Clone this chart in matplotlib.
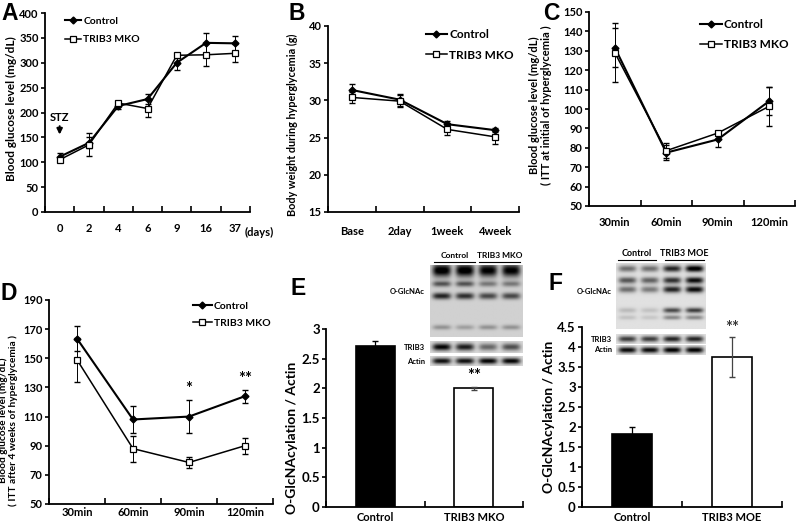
import numpy as np
import matplotlib.pyplot as plt
from matplotlib.ticker import FormatStrFormatter, FixedLocator

plt.rcParams['font.family'] = ['Lato', 'DejaVu Sans']
plt.rcParams['font.weight'] = 'bold'
plt.rcParams['axes.labelweight'] = 'bold'

# DATA
days = ['0', '2', '4', '6', '9', '16', '37']
a_ctrl = [111, 139, 213, 227, 300, 340, 339]
a_ctrl_err = [7, 11, 6, 10, 15, 20, 15]
a_mko = [105, 135, 219, 208, 315, 316, 319]
a_mko_err = [5, 23, 5, 18, 5, 23, 18]

b_labels = ['Base', '2day', '1week', '4week']
b_ctrl = [31.4, 30.1, 26.8, 26.0]
b_ctrl_err = [0.8, 0.8, 0.45, 0.3]
b_mko = [30.4, 29.9, 26.1, 25.1]
b_mko_err = [0.7, 0.8, 0.8, 0.9]

itt_labels = ['30min', '60min', '90min', '120min']
c_ctrl = [131.7, 77.5, 84.3, 104.1]
c_ctrl_err = [9.8, 4, 4, 7.3]
c_mko = [129.1, 78.5, 87.6, 101.4]
c_mko_err = [15, 4, 1, 10]

d_ctrl = [163.5, 108, 110, 124]
d_ctrl_err = [8.5, 9, 11.5, 4.5]
d_mko = [149, 88, 78.5, 90]
d_mko_err = [15, 9, 4, 5.5]
d_stars = ['', '', '*', '**']

e_groups = ['Control', 'TRIB3 MKO']
e_vals = [2.71, 2.0]
e_err = [0.08, 0.03]
f_groups = ['Control', 'TRIB3 MOE']
f_vals = [1.83, 3.75]
f_err = [0.17, 0.5]

# western blot band intensities (lane x band)
e_glc_bands = [(0.07, 0.09), (0.26, 0.04), (0.43, 0.045), (0.87, 0.035)]
e_glc_int = [[0.9, 0.5, 0.7, 0.25], [0.9, 0.5, 0.65, 0.2], [0.85, 0.35, 0.55, 0.25], [0.85, 0.35, 0.55, 0.25]]
e_trib3 = [0.85, 0.75, 0.45, 0.55]
e_actin = [0.8, 0.8, 0.85, 0.85]
f_glc_bands = [(0.08, 0.05), (0.26, 0.05), (0.40, 0.05), (0.72, 0.04), (0.83, 0.035)]
f_glc_int = [[0.45, 0.55, 0.45, 0.15, 0.12], [0.45, 0.5, 0.4, 0.12, 0.1], [0.75, 0.7, 0.75, 0.6, 0.35], [0.95, 0.85, 0.85, 0.65, 0.35]]
f_trib3 = [0.65, 0.65, 0.75, 0.75]
f_actin = [0.85, 0.85, 0.9, 0.9]

W, H = 797, 526
fig = plt.figure(figsize=(W / 100, H / 100), dpi=100)


def box(x0, y0, x1, y1):
    return fig.add_axes([x0 / W, 1 - y1 / H, (x1 - x0) / W, (y1 - y0) / H])


def style(ax, fs=8):
    for s in ['top', 'right']:
        ax.spines[s].set_visible(False)
    for s in ['left', 'bottom']:
        ax.spines[s].set_linewidth(1.3)
    ax.tick_params(axis='y', direction='out', length=3, width=1.2, labelsize=fs, pad=1.5)
    ax.yaxis.set_major_formatter(FormatStrFormatter('%g'))


def cat_axis(ax, labels, bounds, centers, fs=8, pad=8):
    ax.xaxis.set_major_locator(FixedLocator(bounds))
    ax.xaxis.set_minor_locator(FixedLocator(centers))
    ax.set_xticklabels([], minor=False)
    ax.set_xticklabels(labels, minor=True)
    ax.tick_params(axis='x', which='major', direction='in', length=4, width=1.2)
    ax.tick_params(axis='x', which='minor', length=0, labelsize=fs, pad=pad)
    ax.set_xlim(bounds[0], bounds[-1])


def line_panel(ax, labels, ctrl, cerr, mko, merr, fs=8, pad=8):
    x = np.arange(len(labels))
    ax.errorbar(x, ctrl, yerr=cerr, fmt='none', ecolor='k', elinewidth=0.7, capsize=2)
    ax.errorbar(x, mko, yerr=merr, fmt='none', ecolor='k', elinewidth=0.7, capsize=2)
    h1, = ax.plot(x, ctrl, color='k', lw=1.5, marker='D', ms=3.5, mfc='k')
    h2, = ax.plot(x, mko, color='k', lw=1.1, marker='s', ms=5, mfc='white', mew=0.9)
    n = len(labels)
    cat_axis(ax, labels, np.arange(n + 1) - 0.5, x, fs, pad)
    style(ax, fs)
    return h1, h2


def blot(ax, bands, lanes, bg=0.85):
    ny, nx = 80, 160
    yy = np.linspace(0, 1, ny)[:, None]
    xx = np.linspace(0, 1, nx)[None, :]
    img = np.full((ny, nx), bg)
    nl = len(lanes)
    for li, ints in enumerate(lanes):
        cx = (li + 0.5) / nl
        lane = np.exp(-((xx - cx) / (0.4 / nl)) ** 4)
        for (yc, w), a in zip(bands, ints):
            img = img - a * lane * np.exp(-((yy - yc) / w) ** 2)
    img = np.clip(img, 0, 1)
    ax.imshow(img, cmap='gray', vmin=0, vmax=1, aspect='auto', interpolation='bilinear')
    ax.axis('off')


def letter(x, y, s):
    fig.text(x / W, 1 - y / H, s, fontsize=16.5, fontweight='bold', family='Liberation Sans', va='top', ha='left')


# ---- A
axA = box(45, 13, 250, 212)
h1, h2 = line_panel(axA, days, a_ctrl, a_ctrl_err, a_mko, a_mko_err, pad=8)
axA.set_ylim(0, 400)
axA.set_yticks(range(0, 401, 50))
axA.text(6.3, -0.105, '(days)', transform=axA.get_xaxis_transform(), fontsize=8, va='center', ha='left')
axA.annotate('', xy=(0, 150), xytext=(0, 178), arrowprops=dict(arrowstyle='-|>', color='k', lw=1.5, mutation_scale=8))
axA.text(0, 190, 'STZ', ha='center', va='center', fontsize=8)
axA.set_ylabel('Blood glucose level (mg/dL)', fontsize=8.5)
axA.yaxis.set_label_coords((17 - 45) / 205, 0.52)
axA.legend([h1, h2], ['Control', 'TRIB3 MKO'], frameon=False, fontsize=7.5, loc='upper left',
           bbox_to_anchor=(0.05, 1.03), handlelength=1.6, handletextpad=0.2, labelspacing=0.9)
letter(1, 2, 'A')

# ---- B
axB = box(328, 26, 519, 212)
h1, h2 = line_panel(axB, b_labels, b_ctrl, b_ctrl_err, b_mko, b_mko_err, pad=10)
axB.set_ylim(15, 40)
axB.set_yticks(range(15, 41, 5))
axB.set_ylabel('Body weight during hyperglycemia (g)', fontsize=7.8)
axB.yaxis.set_label_coords((298 - 328) / 191, 0.47)
axB.legend([h1, h2], ['Control', 'TRIB3 MKO'], frameon=False, fontsize=8.5, loc='upper right',
           bbox_to_anchor=(1.03, 1.04), handlelength=1.8, handletextpad=0.2, labelspacing=0.8)
letter(288, 2, 'B')

# ---- C
axC = box(589, 12, 795, 206)
h1, h2 = line_panel(axC, itt_labels, c_ctrl, c_ctrl_err, c_mko, c_mko_err, pad=8)
axC.set_ylim(50, 150)
axC.set_yticks(range(50, 151, 10))
axC.set_ylabel('Blood glucose level (mg/dL)\n( ITT at initial of hyperglycemia )', fontsize=8, linespacing=1.1)
axC.yaxis.set_label_coords((552 - 589) / 206, 0.52)
axC.legend([h1, h2], ['Control', 'TRIB3 MKO'], frameon=False, fontsize=8.5, loc='upper right',
           bbox_to_anchor=(1.02, 1.02), handlelength=1.8, handletextpad=0.2, labelspacing=0.8)
letter(543, 2, 'C')

# ---- D
axD = box(49, 300, 273, 504)
h1, h2 = line_panel(axD, itt_labels, d_ctrl, d_ctrl_err, d_mko, d_mko_err, pad=2)
axD.set_ylim(50, 190)
axD.set_yticks(range(50, 191, 20))
for i, s in enumerate(d_stars):
    if s:
        axD.text(i, d_ctrl[i] + d_ctrl_err[i] + 2, s, ha='center', va='bottom', fontsize=12)
axD.set_ylabel('Blood glucose level (mg/dL)\n( ITT after 4 weeks of hyperglycemia )', fontsize=7.3, linespacing=1.05)
axD.yaxis.set_label_coords((18 - 49) / 224, 0.41)
axD.legend([h1, h2], ['Control', 'TRIB3 MKO'], frameon=False, fontsize=7.5, loc='upper right',
           bbox_to_anchor=(1.03, 1.04), handlelength=1.8, handletextpad=0.2, labelspacing=0.8)
letter(1, 282, 'D')


# ---- bar panels
def bar_panel(ax, groups, vals, errs, fs=9.5):
    x = np.arange(len(groups))
    ax.bar(x, vals, width=0.4, color=['k', 'white'], edgecolor='k', lw=1.2, zorder=2)
    for xi, v, e, c in zip(x, vals, errs, ['k', '#444']):
        ax.errorbar(xi, v, yerr=e, fmt='none', ecolor=c, elinewidth=0.9, capsize=2.5, zorder=3)
    cat_axis(ax, groups, [-0.5, 0.5, 1.5], x, 8, 3.5)
    style(ax, fs)
    ax.set_ylabel('O-GlcNAcylation / Actin', fontsize=10)


axE = box(326, 329, 523, 507)
bar_panel(axE, e_groups, e_vals, e_err)
axE.set_ylim(0, 3)
axE.set_yticks(np.arange(0, 3.01, 0.5))
axE.text(1, e_vals[1] + e_err[1] + 0.05, '**', ha='center', va='bottom', fontsize=12)
axE.yaxis.set_label_coords((298 - 326) / 197, 0.39)
letter(291, 277, 'E')

axF = box(582, 327, 782, 507)
bar_panel(axF, f_groups, f_vals, f_err)
axF.set_ylim(0, 4.5)
axF.set_yticks(np.arange(0, 4.51, 0.5))
axF.text(1, f_vals[1] + f_err[1] + 0.03, '**', ha='center', va='bottom', fontsize=12, color='#333')
axF.yaxis.set_label_coords((555 - 582) / 200, 0.5)
letter(549, 272, 'F')

# ---- blots E
blot(box(430, 265, 523, 337), e_glc_bands, e_glc_int, bg=0.82)
blot(box(430, 341, 523, 353), [(0.5, 0.3)], [[v] for v in e_trib3], bg=0.85)
blot(box(430, 356, 523, 366), [(0.5, 0.3)], [[v] for v in e_actin], bg=0.85)
for txt, y in [('O-GlcNAc', 292), ('TRIB3', 347), ('Actin', 361)]:
    fig.text(425 / W, 1 - y / H, txt, fontsize=5.5, ha='right', va='center')
for txt, xa, xb in [('Control', 434, 475), ('TRIB3 MKO', 479, 520)]:
    fig.text((xa + xb) / 2 / W, 1 - 256 / H, txt, fontsize=6, ha='center', va='center')
    fig.add_artist(plt.Line2D([xa / W, xb / W], [1 - 262 / H] * 2, color='k', lw=0.8))

# ---- blots F
blot(box(616, 263, 706, 329), f_glc_bands, f_glc_int, bg=0.88)
blot(box(616, 334, 706, 344), [(0.5, 0.3)], [[v] for v in f_trib3], bg=0.88)
blot(box(616, 345, 706, 355), [(0.5, 0.3)], [[v] for v in f_actin], bg=0.88)
for txt, y in [('O-GlcNAc', 292), ('TRIB3', 339), ('Actin', 350)]:
    fig.text(612 / W, 1 - y / H, txt, fontsize=5.5, ha='right', va='center')
for txt, xa, xb in [('Control', 618, 656), ('TRIB3 MOE', 665, 704)]:
    fig.text((xa + xb) / 2 / W, 1 - 254 / H, txt, fontsize=6.5, ha='center', va='center')
    fig.add_artist(plt.Line2D([xa / W, xb / W], [1 - 260 / H] * 2, color='k', lw=0.8))

fig.savefig('out.png', dpi=100)
